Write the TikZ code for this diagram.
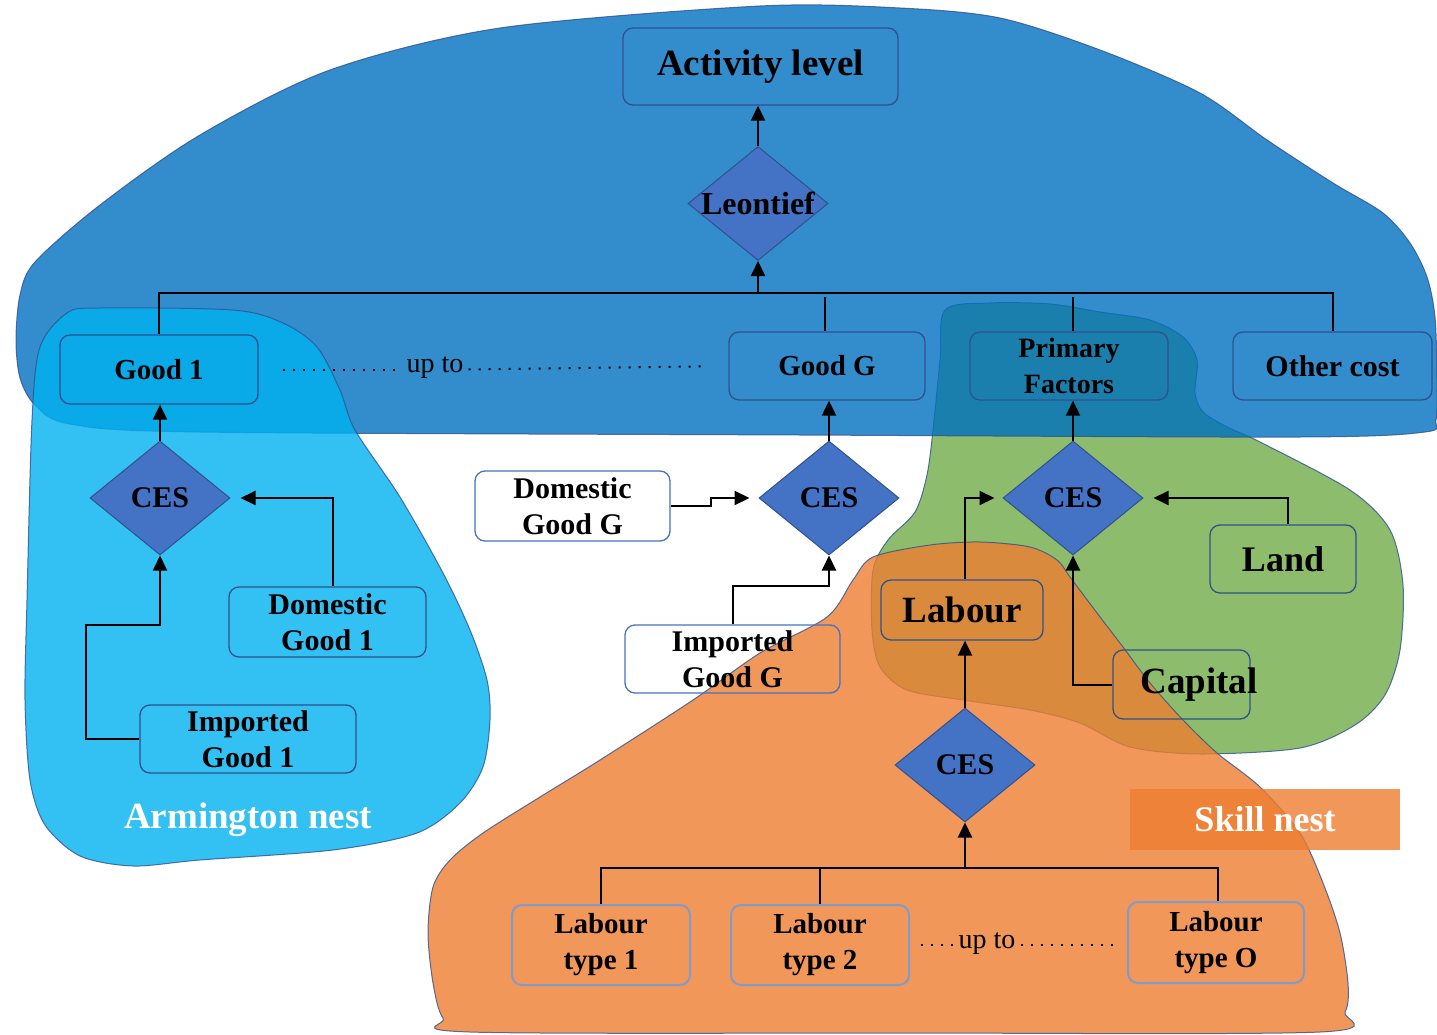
\documentclass[tikz,border=0pt]{standalone}
\usepackage{fontspec}
\setmainfont{Liberation Serif}
\usetikzlibrary{arrows.meta,shapes.geometric}
\definecolor{bluetop}{HTML}{0070C0}
\definecolor{armblue}{HTML}{00B0F0}
\definecolor{greenb}{HTML}{70AD47}
\definecolor{orangeb}{HTML}{ED7D31}
\definecolor{diafill}{HTML}{4472C4}
\definecolor{bdr}{HTML}{2F528F}
\definecolor{ltbdr}{HTML}{7F9BC9}
\newcommand{\fsz}[2]{\fontsize{#1}{#2}\selectfont}
\begin{document}
\begin{tikzpicture}[x=1pt,y=-1pt,
 blob/.style={draw=bdr, line width=1pt, fill opacity=0.8, draw opacity=0.8},
 box/.style={draw=bdr, line width=1.3pt, rounded corners=10pt, align=center, inner sep=0pt},
 ltbox/.style={box, draw=ltbdr, line width=2pt, font=\fsz{29}{36}\bfseries},
 whitebox/.style={box, draw=diafill, fill=white, font=\fsz{30}{36}\bfseries},
 dia/.style={diamond, draw=bdr, line width=1pt, fill=diafill, inner sep=0pt, minimum width=140pt, minimum height=114pt, font=\fsz{30}{36}\bfseries},
 conn/.style={line width=2pt},
 arr/.style={conn, -{Triangle[length=15pt,width=14pt]}},
 dotl/.style={line width=2pt, dash pattern=on 2pt off 8pt},
 uptext/.style={inner sep=5pt, font=\fsz{28}{32}},
]
\useasboundingbox (0,0) rectangle (1437,1035);
% ---------- nests ----------
\draw[blob, fill=greenb] plot[smooth cycle] coordinates {(945,310) (990,303) (1050,304) (1100,312) (1150,320) (1183,337) (1197,360) (1195,393) (1203,412) (1227,427) (1260,442) (1350,490) (1390,530) (1403,585) (1400,650) (1385,695) (1355,725) (1300,748) (1200,754) (1130,747) (1080,723) (1030,710) (963,700) (907,690) (880,667) (872,630) (873,570) (888,540) (915,512) (927,475) (933,430) (940,360)};
\draw[blob, fill=bluetop] plot[smooth cycle] coordinates {(200,432) (800,435) (1300,437) (1425,432) (1436,420) (1437,380) (1435,317) (1427,277) (1410,243) (1383,213) (1333,183) (1267,140) (1200,93) (1100,50) (1000,18) (900,8) (760,6) (500,28) (330,70) (200,135) (100,205) (35,262) (20,295) (16,340) (20,378) (35,405) (70,424)};
\fill[white, rounded corners=10pt] (625,625) rectangle (840,693);
\draw[blob, fill=armblue] plot[smooth cycle] coordinates {(67,313) (100,308) (233,310) (283,323) (317,347) (340,390) (355,430) (400,497) (443,573) (470,630) (487,680) (490,720) (483,767) (460,803) (417,833) (333,850) (200,860) (133,866) (80,856) (45,825) (30,780) (25,700) (27,600) (32,420) (40,347)};
\draw[blob, fill=orangeb] plot[smooth cycle] coordinates {(873,557) (930,545) (980,542) (1030,547) (1057,560) (1070,577) (1097,613) (1123,647) (1150,683) (1183,720) (1217,753) (1260,787) (1300,833) (1323,883) (1340,933) (1348,983) (1345,1012) (1320,1032) (900,1033) (470,1032) (443,1018) (433,983) (428,933) (433,887) (450,860) (483,833) (540,797) (600,760) (693,700) (760,653) (827,617) (853,580)};
\node[fill=orangeb, fill opacity=0.8, text opacity=1, text=white, minimum width=270pt, minimum height=61pt, font=\fsz{36}{40}\bfseries] (skill) at (1265,819.5) {Skill nest};
\node[text=white, font=\fsz{37}{40}\bfseries] (armlabel) at (248,820) {Armington nest};
% ---------- nodes ----------
\node[box, minimum width=275pt, minimum height=77pt, font=\fsz{37}{40}\bfseries] (act) at (760.5,66.5) {Activity level};
\node[dia, font=\fsz{32}{36}\bfseries] (leon) at (758,203.5) {\makebox[0pt]{Leontief}};
\node[box, minimum width=198pt, minimum height=69pt, font=\fsz{29}{36}\bfseries] (good1) at (159,369.5) {Good 1};
\node[box, minimum width=196pt, minimum height=68pt, font=\fsz{29}{36}\bfseries] (goodG) at (827,366) {Good G};
\node[box, minimum width=198pt, minimum height=68pt, font=\fsz{28}{36}\bfseries] (prim) at (1069,366) {Primary\\Factors};
\node[box, minimum width=199pt, minimum height=68pt, font=\fsz{30}{36}\bfseries] (other) at (1332.5,366) {Other cost};
\node[uptext, anchor=base] (upto1) at (435,372) {up to};
\node[dia] (ces1) at (160,498) {\makebox[0pt]{CES}};
\node[box, minimum width=197pt, minimum height=70pt, font=\fsz{30}{36}\bfseries] (dom1) at (327.5,622) {Domestic\\Good 1};
\node[box, minimum width=216pt, minimum height=68pt, font=\fsz{30}{36}\bfseries] (imp1) at (248,739) {Imported\\Good 1};
\node[whitebox, minimum width=195pt, minimum height=70pt] (domG) at (572.5,506) {Domestic\\Good G};
\node[dia] (cesG) at (829,498) {\makebox[0pt]{CES}};
\node[box, draw=diafill, minimum width=215pt, minimum height=68pt, font=\fsz{30}{36}\bfseries] (impG) at (732.5,659) {Imported\\Good G};
\node[dia] (cesP) at (1073,498) {\makebox[0pt]{CES}};
\node[box, minimum width=146pt, minimum height=68pt, font=\fsz{36}{40}\bfseries] (land) at (1283,559) {Land};
\node[box, minimum width=162pt, minimum height=60pt, font=\fsz{37}{40}\bfseries] (labour) at (962,610) {Labour};
\node[box, minimum width=137pt, minimum height=69pt, font=\fsz{37}{40}\bfseries] (capital) at (1181.5,684.5) {\makebox[0pt]{\hspace*{35pt}Capital}};
\node[dia] (cesL) at (965,765) {\makebox[0pt]{CES}};
\node[ltbox, minimum width=178pt, minimum height=80pt] (lt1) at (601,945) {Labour\\type 1};
\node[ltbox, minimum width=178pt, minimum height=80pt] (lt2) at (820,945) {Labour\\type 2};
\node[ltbox, minimum width=176pt, minimum height=81pt] (ltO) at (1216,942.5) {Labour\\type O};
\node[uptext, anchor=base] (upto2) at (987,948) {up to};
% ---------- connectors ----------
\coordinate (bus) at (0,293);
\coordinate (bus2) at (0,868);
\draw[arr] (leon.north) -- (leon.north |- act.south);
\draw[conn] (good1.north) -- (good1.north |- bus) -- (other.north |- bus) -- (other.north);
\draw[arr] (leon.south |- bus) -- (leon.south);
\draw[conn] ([xshift=-2pt]goodG.north) -- ++(0,-34);
\draw[conn] ([xshift=4pt]prim.north) -- ++(0,-34);
\draw[dotl, shorten <=24pt] (good1.east) -- (good1.east -| upto1.west);
\draw[dotl, shorten >=24pt] (upto1.east |- good1.east) -- (goodG.west);
\draw[arr] (ces1.north) -- (ces1.north |- good1.south);
\draw[arr] ([xshift=5pt]dom1.north) |- ([xshift=10pt]ces1.east);
\draw[arr] (imp1.west) -- ++(-53,0) |- (160,625) -- (ces1.south);
\draw[arr] (domG.east) -- ++(40,0) |- ([xshift=-9pt]cesG.west);
\draw[arr] (impG.north) -- ++(0,-38) -| (cesG.south);
\draw[arr] (cesG.north) -- (cesG.north |- goodG.south);
\draw[arr] (cesP.north) -- (cesP.north |- prim.south);
\draw[arr] ([xshift=5pt]land.north) |- ([xshift=10pt]cesP.east);
\draw[arr] ([xshift=3pt]labour.north) |- ([xshift=-8pt]cesP.west);
\draw[arr] (capital.west) -| (cesP.south);
\draw[arr] (cesL.north) -- ([xshift=3pt]labour.south);
\draw[conn] (lt1.north) -- (lt1.north |- bus2) -- ([xshift=2pt]ltO.north |- bus2) -- ([xshift=2pt]ltO.north);
\draw[conn] (lt2.north) -- (lt2.north |- bus2);
\draw[arr] (cesL.south |- bus2) -- (cesL.south);
\draw[dotl, shorten <=11pt] (lt2.east) -- (lt2.east -| upto2.west);
\draw[dotl, shorten >=8pt] (upto2.east |- lt2.east) -- (lt2.east -| ltO.west);
\end{tikzpicture}
\end{document}
